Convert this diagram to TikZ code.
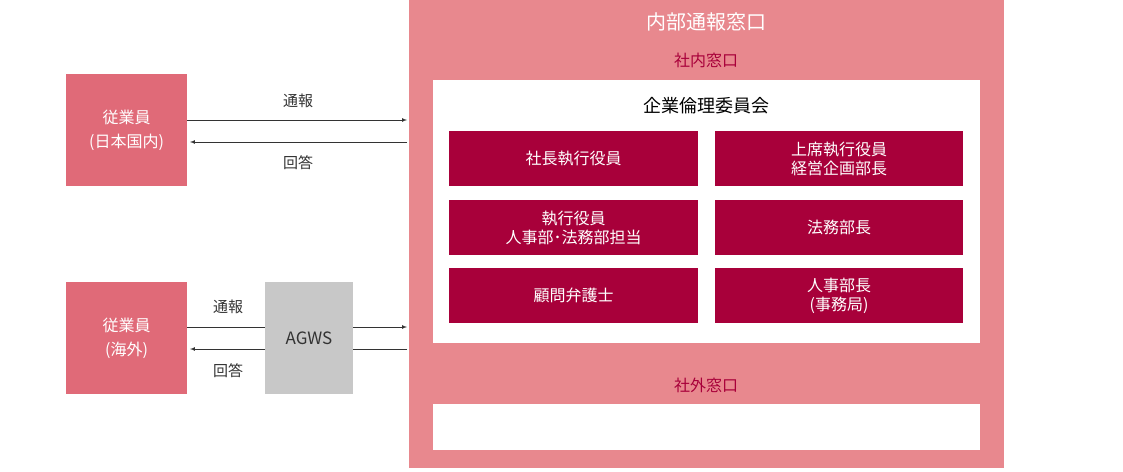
\documentclass[tikz,border=0pt]{standalone}
\usepackage{fontspec}
\setmainfont{Noto Sans CJK JP}
\definecolor{outer}{HTML}{E8888E}
\definecolor{emp}{HTML}{E06A78}
\definecolor{dark}{HTML}{A8003A}
\definecolor{gr}{HTML}{C8C8C8}
\begin{document}
\begin{tikzpicture}[x=1pt,y=-1pt,
  dbox/.style={fill=dark,text=white,font=\fontsize{16}{19}\selectfont,align=center},
  ebox/.style={fill=emp,text=white,font=\fontsize{16}{24}\selectfont,align=center},
  lbl/.style={font=\fontsize{15}{18}\selectfont,text=black!80},
  arr/.style={-latex,black!80,line width=0.7pt}]
\useasboundingbox (0,0) rectangle (1123,471);
\fill[outer] (409,0) rectangle (1004,468);
\node[text=white,font=\fontsize{20}{24}\selectfont] (t) at (706,22) {内部通報窓口};
\node[text=dark,font=\fontsize{16}{19}\selectfont] (in) at (706,60) {社内窓口};
\fill[white] (433,80) rectangle (980,343);
\node[font=\fontsize{18}{22}\selectfont] (c) at (706,106) {企業倫理委員会};
\fill[dark] (449,131) rectangle (698,186) node[dbox,midway] (a1) {社長執行役員};
\fill[dark] (715,131) rectangle (963,186) node[dbox,midway] (b1) {上席執行役員\\経営企画部長};
\fill[dark] (449,200) rectangle (698,255) node[dbox,midway] (a2) {執行役員\\人事部･法務部担当};
\fill[dark] (715,200) rectangle (963,255) node[dbox,midway] (b2) {法務部長};
\fill[dark] (449,268) rectangle (698,323) node[dbox,midway] (a3) {顧問弁護士};
\fill[dark] (715,268) rectangle (963,323) node[dbox,midway] (b3) {人事部長\\(事務局)};
\node[text=dark,font=\fontsize{16}{19}\selectfont] (out) at (706,385) {社外窓口};
\fill[white] (433,404) rectangle (980,450) node[midway,font=\fontsize{18}{22}\selectfont] (law) {弁護士事務所};
\fill[emp] (66,74) rectangle (187,186) node[ebox,midway] (e1) {従業員\\(日本国内)};
\fill[emp] (66,282) rectangle (187,394) node[ebox,midway] (e2) {従業員\\(海外)};
\fill[gr] (265,282) rectangle (353,394) node[midway,font=\fontsize{17}{20}\selectfont,text=black!80] (ag) {AGWS};
\coordinate (p1) at (187,120); \coordinate (q1) at (407,120);
\coordinate (p2) at (190,142); \coordinate (q2) at (407,142);
\draw[arr] (p1) -- (q1); \draw[arr] (q2) -- (p2);
\node[lbl] at (298,101) {通報}; \node[lbl] at (298,163) {回答};
\coordinate (r1) at (187,327); \coordinate (s1) at (265,327);
\coordinate (r2) at (353,327); \coordinate (s2) at (407,327);
\coordinate (r3) at (407,349); \coordinate (s3) at (353,349);
\coordinate (r4) at (265,349); \coordinate (s4) at (190,349);
\draw[black!80,line width=0.7pt] (r1) -- (s1);
\draw[arr] (r2) -- (s2); \draw[black!80,line width=0.7pt] (r3) -- (s3);
\draw[arr] (r4) -- (s4);
\node[lbl] at (228,307) {通報}; \node[lbl] at (228,371) {回答};
\end{tikzpicture}
\end{document}
